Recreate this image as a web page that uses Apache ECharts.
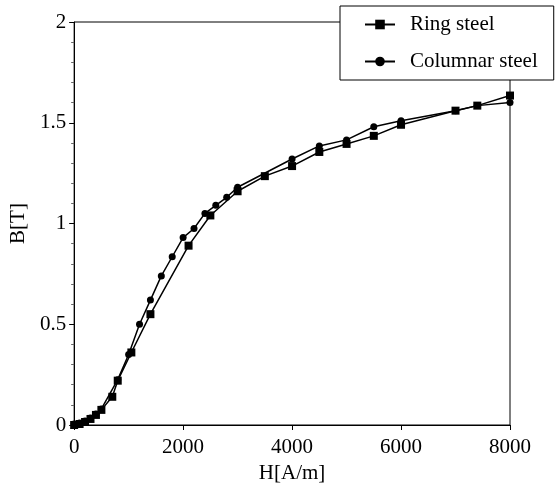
<!DOCTYPE html>
<html>
<head>
<meta charset="utf-8">
<script src="https://cdn.jsdelivr.net/npm/echarts@6/dist/echarts.min.js"></script>
<style>
  html, body { margin: 0; padding: 0; background: #fff; }
  #chart { width: 557px; height: 493px; }
</style>
</head>
<body>
<div id="chart"></div>
<script>
// H [A/m] and B [T]
const ringH = [0, 100, 200, 300, 400, 500, 700, 800, 1050, 1400, 2100, 2500, 3000, 3500, 4000, 4500, 5000, 5500, 6000, 7000, 7400, 8000]
const ringB = [0, 0.005, 0.015, 0.03, 0.05, 0.075, 0.14, 0.22, 0.36, 0.55, 0.89, 1.04, 1.16, 1.235, 1.285, 1.355, 1.395, 1.435, 1.49, 1.56, 1.585, 1.635]
const colH = [0, 100, 200, 300, 400, 500, 800, 1000, 1200, 1400, 1600, 1800, 2000, 2200, 2400, 2600, 2800, 3000, 4000, 4500, 5000, 5500, 6000, 7000, 7400, 8000]
const colB = [0.005, 0.01, 0.02, 0.035, 0.055, 0.08, 0.225, 0.35, 0.5, 0.62, 0.74, 0.835, 0.93, 0.975, 1.05, 1.09, 1.13, 1.18, 1.32, 1.385, 1.415, 1.48, 1.51, 1.56, 1.585, 1.6]
const xTicks = [0, 2000, 4000, 6000, 8000]

const font = 'Liberation Serif'
const chart = echarts.init(document.getElementById('chart'))

const pairs = (xs, ys) => xs.map((x, i) => [x, ys[i]])

const option = {
  animation: false,
  grid: {
    left: 73,
    right: 47,
    top: 22,
    bottom: 68,
    show: true,
    borderColor: '#000',
    borderWidth: 1,
  },
  legend: {
    orient: 'vertical',
    left: 340,
    top: 6,
    backgroundColor: '#fff',
    borderColor: '#000',
    borderWidth: 1,
    borderRadius: 0,
    padding: [8, 16, 8, 24],
    itemWidth: 30,
    itemHeight: 12,
    itemGap: 16,
    textStyle: {
      fontFamily: font,
      fontSize: 21,
      color: '#000',
      padding: [0, 0, 0, 10],
    },
    data: ['Ring steel', 'Columnar steel'],
  },
  xAxis: {
    type: 'value',
    min: 0,
    max: 8000,
    interval: 2000,
    name: 'H[A/m]',
    nameLocation: 'middle',
    nameGap: 36,
    nameTextStyle: { fontFamily: font, fontSize: 21, color: '#000' },
    axisLine: { lineStyle: { color: '#000', width: 1 } },
    axisTick: { show: true, length: 5, lineStyle: { color: '#000' } },
    axisLabel: {
      fontFamily: font,
      fontSize: 21,
      color: '#000',
      margin: 12,
      formatter: (v) => (xTicks.includes(v) ? String(v) : ''),
    },
    splitLine: { show: false },
  },
  yAxis: {
    type: 'value',
    min: 0,
    max: 2,
    interval: 0.5,
    name: 'B[T]',
    nameLocation: 'middle',
    nameGap: 40,
    nameTextStyle: { fontFamily: font, fontSize: 21, color: '#000' },
    axisLine: { show: true, lineStyle: { color: '#000', width: 1 } },
    axisTick: { show: true, length: 5, lineStyle: { color: '#000' } },
    minorTick: { show: true, splitNumber: 5, length: 3, lineStyle: { color: '#666' } },
    axisLabel: { fontFamily: font, fontSize: 21, color: '#000', margin: 8 },
    splitLine: { show: false },
  },
  series: [
    {
      name: 'Ring steel',
      type: 'line',
      data: pairs(ringH, ringB),
      symbol: 'rect',
      symbolSize: 8,
      itemStyle: { color: '#000' },
      lineStyle: { color: '#000', width: 1.5 },
      z: 3,
    },
    {
      name: 'Columnar steel',
      type: 'line',
      data: pairs(colH, colB),
      symbol: 'circle',
      symbolSize: 7,
      itemStyle: { color: '#000' },
      lineStyle: { color: '#000', width: 1.5 },
      z: 2,
    },
  ],
}

chart.setOption(option)
</script>
</body>
</html>
